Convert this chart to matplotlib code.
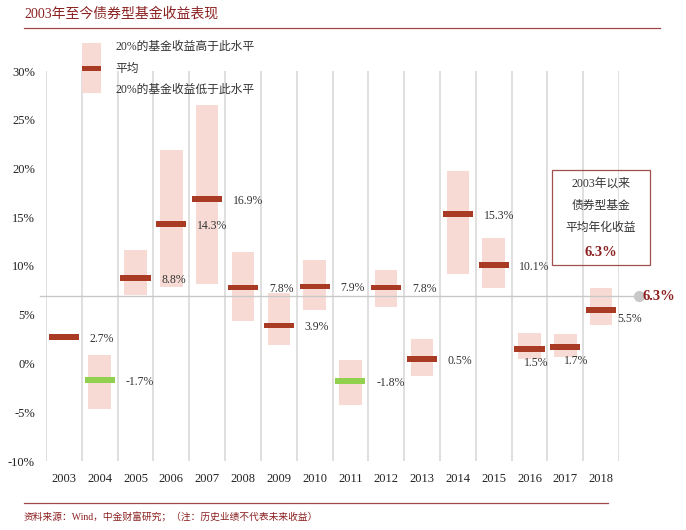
import numpy as np
import matplotlib
matplotlib.use("Agg")
import matplotlib.pyplot as plt
from matplotlib.patches import Rectangle
from matplotlib.lines import Line2D

plt.rcParams['font.family'] = ['Liberation Serif', 'Noto Sans CJK SC', 'DejaVu Sans']

# 数据
years = ['2003', '2004', '2005', '2006', '2007', '2008', '2009', '2010',
         '2011', '2012', '2013', '2014', '2015', '2016', '2017', '2018']
median = [2.7, -1.7, 8.8, 14.3, 16.9, 7.8, 3.9, 7.9,
          -1.8, 7.8, 0.5, 15.3, 10.1, 1.5, 1.7, 5.5]
top20 = [np.nan, 0.9, 11.6, 21.9, 26.5, 11.4, 7.2, 10.6,
         0.4, 9.6, 2.5, 19.7, 12.9, 3.1, 3.0, 7.7]
bottom20 = [np.nan, -4.7, 7.0, 7.8, 8.2, 4.4, 1.9, 5.5,
            -4.3, 5.8, -1.3, 9.2, 7.7, 0.5, 0.7, 4.0]
avg_text = '6.3%'
avg_line = 6.9
yticks = [-10, -5, 0, 5, 10, 15, 20, 25, 30]

red = '#A93A23'
green = '#92D050'
pink = '#F8DAD4'
dark = '#8B2020'

fig = plt.figure(figsize=(6.86, 5.3), dpi=100)
ax = fig.add_axes([46/686, 1-461/530, (619-46)/686, (461-71)/530])

x = np.arange(len(years))
ax.set_xlim(-0.5, len(years) - 0.5)
ax.set_ylim(-10, 30)

# 竖网格线
for b in np.arange(-0.5, len(years), 1.0):
    ax.axvline(b, color='#D9D9D9', lw=1.2, zorder=0)

# 20%-80% 区间
lo = np.array(bottom20)
hi = np.array(top20)
ok = ~np.isnan(lo)
ax.bar(x[ok], (hi - lo)[ok], bottom=lo[ok], width=0.63, color=pink, zorder=1)

# 平均值
cols = [green if m < 0 else red for m in median]
h = 0.6
ax.bar(x, h, bottom=np.array(median) - h/2, width=0.84, color=cols, zorder=2)

# 数值标签
offsets = {13: (-0.15, -1.45), 14: (-0.03, -1.4), 15: (0.45, -0.9)}
for i, m in enumerate(median):
    dx, dy = offsets.get(i, (0.72, -0.2))
    ax.text(x[i] + dx, m + dy, f'{m:.1f}%', ha='left', va='center',
            fontsize=8.5, color='#333333', zorder=3)

# 平均年化收益线
ax.plot([-0.67, 16.06], [avg_line, avg_line], color='#C8C8C8', lw=1.0,
        clip_on=False, zorder=1)
ax.plot([16.06], [avg_line], 'o', color='#C8C8C8', ms=7, clip_on=False, zorder=3)
ax.text(16.17, avg_line, avg_text, ha='left', va='center', fontsize=10.5,
        fontweight='bold', color=dark, clip_on=False)

ax.set_xticks(x)
ax.set_xticklabels(years, fontsize=9, color='#222222')
ax.set_yticks(yticks)
ax.set_yticklabels([f'{t}%' for t in yticks], fontsize=9, color='#222222')
ax.tick_params(length=0)
ax.tick_params(axis='x', pad=9)
ax.tick_params(axis='y', pad=8)
for s in ax.spines.values():
    s.set_visible(False)

# 标题
fig.text(24/686, 1-14/530, '2003年至今债券型基金收益表现', fontsize=10,
         color=dark, ha='left', va='center')
fig.add_artist(Line2D([24/686, 660/686], [1-28/530, 1-28/530],
                      color='#A04848', lw=0.9))

# 图例
fig.add_artist(Rectangle((82/686, 1-93/530), 19/686, 50/530,
                         transform=fig.transFigure, color=pink, lw=0))
fig.add_artist(Rectangle((82/686, 1-70.5/530), 19/686, 5/530,
                         transform=fig.transFigure, color=red, lw=0))
for ty, t in [(47, '20%的基金收益高于此水平'), (69, '平均'),
              (90, '20%的基金收益低于此水平')]:
    fig.text(115/686, 1-ty/530, t, fontsize=8.5, color='#333333',
             ha='left', va='center')

# 注释框
fig.add_artist(Rectangle((552/686, 1-265/530), 98/686, 95/530,
                         transform=fig.transFigure, fill=False,
                         edgecolor='#A0504A', lw=0.9))
for ty, t in [(184, '2003年以来'), (206, '债券型基金'), (228, '平均年化收益')]:
    fig.text(601/686, 1-ty/530, t, fontsize=8.5, color='#333333',
             ha='center', va='center')
fig.text(601/686, 1-253/530, avg_text, fontsize=10.5, fontweight='bold',
         color=dark, ha='center', va='center')

# 底部
fig.add_artist(Line2D([24/686, 608/686], [1-503/530, 1-503/530],
                      color='#A04848', lw=0.9))
fig.text(24/686, 1-517/530, '资料来源：Wind，中金财富研究；（注：历史业绩不代表未来收益）',
         fontsize=7, color=dark, ha='left', va='center')

fig.savefig('out.png', dpi=100)
